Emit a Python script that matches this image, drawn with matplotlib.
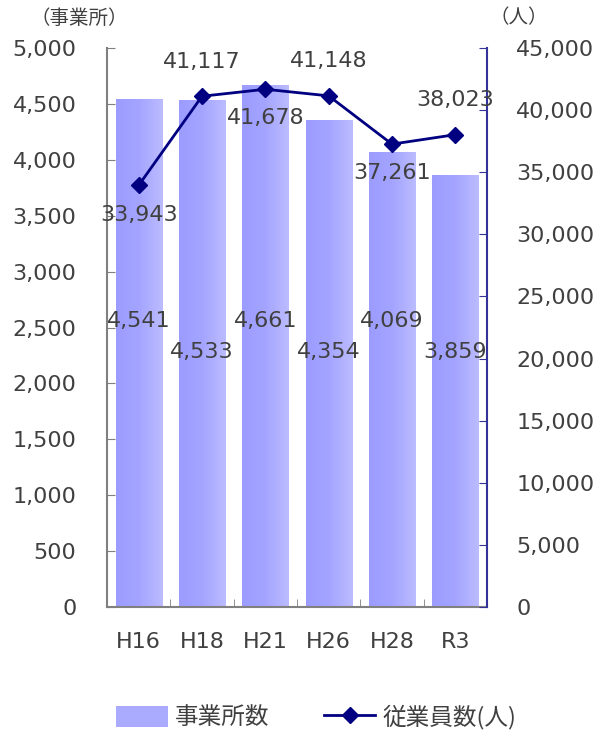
import numpy as np
import matplotlib.pyplot as plt
from matplotlib.colors import LinearSegmentedColormap
from matplotlib.lines import Line2D
from matplotlib.patches import Rectangle

plt.rcParams['font.family'] = ['DejaVu Sans', 'Noto Sans CJK JP']

# data
years = ['H16', 'H18', 'H21', 'H26', 'H28', 'R3']
offices = [4541, 4533, 4661, 4354, 4069, 3859]
employees = [33943, 41117, 41678, 41148, 37261, 38023]

txt = '#404040'
grad = LinearSegmentedColormap.from_list('g', ['#9c9cff', '#a4a4ff', '#bcbcff'])
fs = 16

fig = plt.figure(figsize=(5.93, 7.33), dpi=100)
ax = fig.add_axes([107 / 593, 1 - 607 / 733, 380 / 593, 559 / 733])
ax2 = ax.twinx()

x = np.arange(len(years))
w = 0.73

# gradient bars
g = np.linspace(0, 1, 64).reshape(1, -1)
for i, v in enumerate(offices):
    ax.imshow(g, cmap=grad, aspect='auto', extent=(i - w / 2, i + w / 2, 0, v),
              zorder=1, interpolation='bilinear')
ax.set_xlim(-0.5, len(years) - 0.5)
ax.set_ylim(0, 5000)
ax2.set_ylim(0, 45000)

# bar labels, staggered so they don't collide
for i, v in enumerate(offices):
    yy = 2555 if i % 2 == 0 else 2280
    ax.text(i, yy, f'{v:,}', ha='center', va='center', fontsize=fs, color=txt, zorder=3)

ax2.plot(x, employees, color='#000080', lw=2, marker='D', ms=8, zorder=4)
for i, v in enumerate(employees):
    off = -21 if i % 2 == 0 else 25
    ax2.annotate(f'{v:,}', (i, v), xytext=(0, off), textcoords='offset points',
                 ha='center', va='center', fontsize=fs, color=txt)

ax.set_yticks(np.arange(0, 5001, 500))
ax.set_yticklabels([f'{t:,}' for t in range(0, 5001, 500)])
ax2.set_yticks(np.arange(0, 45001, 5000))
ax2.set_yticklabels([f'{t:,}' for t in range(0, 45001, 5000)])
ax.set_xticks(x)
ax.set_xticklabels(years)
ax.set_xticks(np.arange(0.5, len(years) - 1, 1), minor=True)

ax.tick_params(axis='y', direction='in', length=6, color='#808080', labelsize=fs,
               labelcolor=txt, pad=22)
ax2.tick_params(axis='y', direction='in', length=6, color='#333399', labelsize=fs,
                labelcolor=txt, pad=21)
ax.tick_params(axis='x', which='major', length=0, labelsize=fs, labelcolor=txt, pad=18)
ax.tick_params(axis='x', which='minor', direction='in', length=6, color='#808080')

for a in (ax, ax2):
    a.spines['top'].set_visible(False)
    a.set_facecolor('none')
ax.spines['left'].set_color('#808080')
ax.spines['bottom'].set_color('#808080')
ax.spines['right'].set_visible(False)
ax2.spines['left'].set_visible(False)
ax2.spines['bottom'].set_visible(False)
ax2.spines['right'].set_color('#333399')
for s in ('left', 'bottom', 'right'):
    ax.spines[s].set_linewidth(1.5)
    ax2.spines[s].set_linewidth(1.5)
ax.set_zorder(1)
ax2.set_zorder(2)

fig.text(79 / 593, 1 - 18 / 733, '（事業所）', ha='center', va='center', fontsize=14,
         color=txt, family=['Noto Sans CJK JP'])
fig.text(519 / 593, 1 - 18 / 733, '（人）', ha='center', va='center', fontsize=14,
         color=txt, family=['Noto Sans CJK JP'])

# legend
bar_handle = Rectangle((0, 0), 1, 1, facecolor='#aaaaff', edgecolor='none')
line_handle = Line2D([], [], color='#000080', lw=2, marker='D', ms=8)
leg = fig.legend([bar_handle, line_handle], ['事業所数', '従業員数(人)'],
                 loc='center', bbox_to_anchor=(0.533, 1 - 717 / 733), ncol=2, frameon=False,
                 prop={'family': ['Noto Sans CJK JP'], 'size': 17}, handlelength=2.2,
                 handleheight=1.0, columnspacing=2.3, handletextpad=0.3)
for t in leg.get_texts():
    t.set_color(txt)

fig.savefig('out.png', dpi=100)
